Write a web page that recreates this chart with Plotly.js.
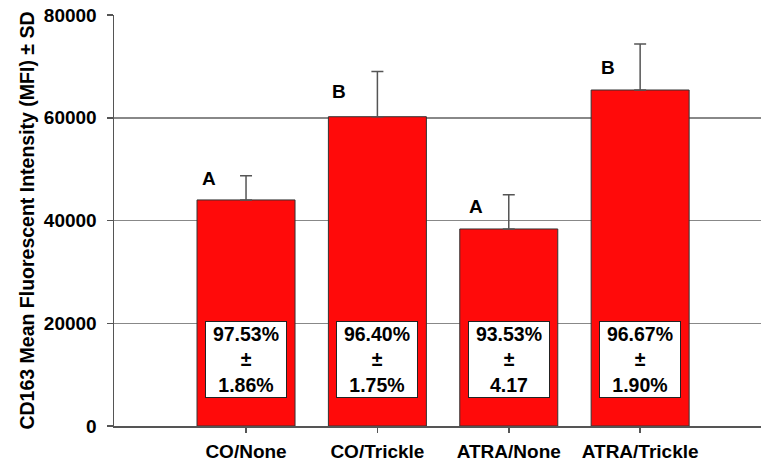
<!DOCTYPE html>
<html>
<head>
<meta charset="utf-8">
<script src="https://cdn.plot.ly/plotly-3.0.1.min.js"></script>
<style>html,body{margin:0;padding:0;background:#fff;}#chart{width:761px;height:465px;}</style>
</head>
<body>
<div id="chart"></div>
<script>
var categories = ["CO/None", "CO/Trickle", "ATRA/None", "ATRA/Trickle"];
var meanMFI = [44000, 60200, 38350, 65400];
var sdMFI = [4700, 8800, 6650, 8950];
var groupLetters = ["A", "B", "A", "B"];
var letterX = [-0.28, 0.708, 1.752, 2.755];
var letterY = [48080, 65200, 42630, 69740];
var purityText = ["97.53%<br>±<br>1.86%", "96.40%<br>±<br>1.75%", "93.53%<br>±<br>4.17", "96.67%<br>±<br>1.90%"];
var purityY = 12850;
var yTicks = [0, 20000, 40000, 60000, 80000];

var FONT = "Liberation Sans, Arial, sans-serif";
var xIdx = categories.map(function(c, i){ return i; });

var trace = {
  type: "bar",
  x: xIdx,
  y: meanMFI,
  marker: {color: "#ff0a0a", line: {color: "#333333", width: 1}},
  error_y: {type: "data", symmetric: false, array: sdMFI, arrayminus: sdMFI.map(function(){return 0;}),
            color: "#555555", thickness: 1.5, width: 6},
  hoverinfo: "none"
};

var annotations = [];
groupLetters.forEach(function(l, i){
  annotations.push({x: letterX[i], y: letterY[i], xref: "x", yref: "y", text: "<b>" + l + "</b>", showarrow: false,
    font: {family: FONT, size: 19, color: "#000"}});
});
purityText.forEach(function(t, i){
  annotations.push({x: i, y: purityY, xref: "x", yref: "y", text: "<b>" + t + "</b>", showarrow: false,
    bgcolor: "#ffffff", bordercolor: "#222222", borderwidth: 1, borderpad: 4, width: 72, height: 67,
    font: {family: FONT, size: 19.5, color: "#000"}});
});

var layout = {
  width: 761, height: 465,
  margin: {l: 114, r: 0, t: 15, b: 39, pad: 0},
  paper_bgcolor: "#fff", plot_bgcolor: "#fff",
  showlegend: false,
  bargap: 0.254,
  font: {family: FONT, color: "#000"},
  xaxis: {
    range: [-1.005, 3.92],
    tickvals: xIdx, ticktext: categories.map(function(c){return "<b>" + c + "</b>";}),
    ticks: "outside", ticklen: 5, tickcolor: "#555", tickwidth: 1.5,
    showline: true, linecolor: "#555", linewidth: 1.5,
    showgrid: false, zeroline: false,
    ticklabelstandoff: 3,
    tickfont: {size: 19, family: FONT, color: "#000"}
  },
  yaxis: {
    range: [0, 80000],
    tickvals: yTicks, ticktext: yTicks.map(function(v){return "<b>" + v + "</b>";}),
    ticks: "outside", ticklen: 6, tickcolor: "#555", tickwidth: 1.5,
    showline: true, linecolor: "#555", linewidth: 1.5,
    showgrid: true, gridcolor: "#888", gridwidth: 1.5,
    zeroline: false,
    ticklabelstandoff: 6,
    tickfont: {size: 19, family: FONT, color: "#000"},
    title: {text: "<b>CD163 Mean Fluorescent Intensity (MFI) ± SD</b>", standoff: 4,
            font: {size: 19.5, family: FONT, color: "#000"}}
  },
  annotations: annotations
};

Plotly.newPlot("chart", [trace], layout, {staticPlot: true, displayModeBar: false});
</script>
</body>
</html>
